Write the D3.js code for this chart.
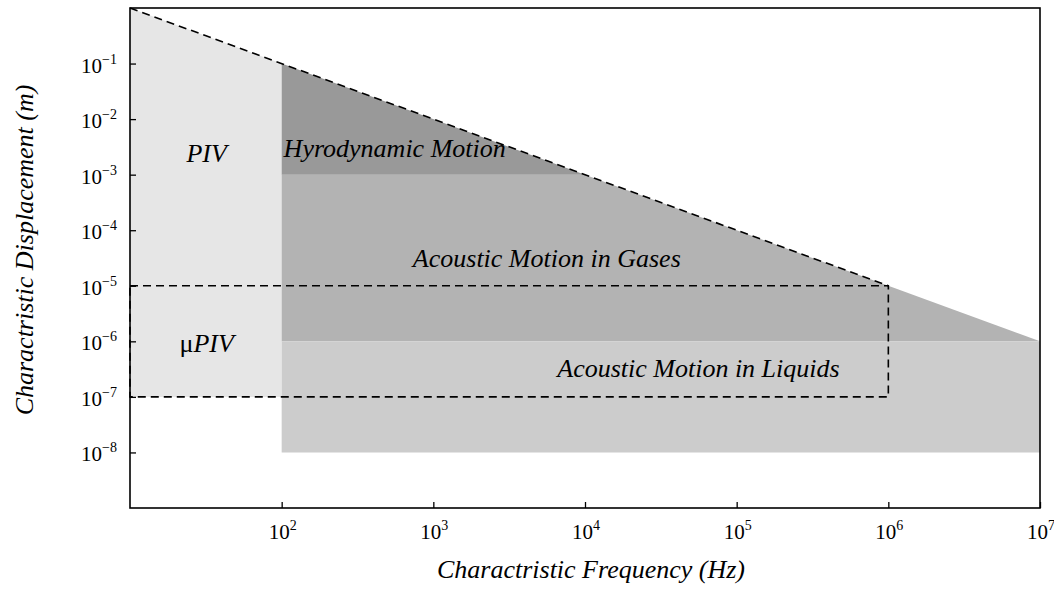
<!DOCTYPE html>
<html>
<head>
<meta charset="utf-8">
<script src="https://cdn.jsdelivr.net/npm/d3@7"></script>
<style>
  body { margin: 0; background: #fff; }
  svg text { font-family: "Liberation Serif", "DejaVu Serif", serif; fill: #000; }
  .lbl { font-style: italic; font-size: 26px; }
</style>
</head>
<body>
<svg id="chart"></svg>
<script>
// frequency (Hz), displacement (m) corners of each region
const pivRegion = [[1e1, 1e0], [1e2, 1e-1], [1e2, 1e-7], [1e1, 1e-7]];
const hydroRegion = [[1e2, 1e-1], [1e4, 1e-3], [1e2, 1e-3]];
const gasRegion = [[1e2, 1e-3], [1e4, 1e-3], [1e7, 1e-6], [1e2, 1e-6]];
const liquidRegion = [[1e2, 1e-6], [1e7, 1e-6], [1e7, 1e-8], [1e2, 1e-8]];
const limitLine = [[1e1, 1e0], [1e6, 1e-5]];
const microPivBox = [[1e1, 1e-5], [1e6, 1e-5], [1e6, 1e-7], [1e1, 1e-7]];

const xTickExp = [2, 3, 4, 5, 6, 7];
const yTickExp = [-1, -2, -3, -4, -5, -6, -7, -8];

const regionLabels = [
  { text: "PIV", f: 32, d: 1.7e-3, anchor: "middle" },
  { text: "Hyrodynamic Motion", f: 103, d: 2.1e-3, anchor: "start" },
  { text: "Acoustic Motion in Gases", f: 5.6e3, d: 2.2e-5, anchor: "middle" },
  { text: "\u03bcPIV", f: 32, d: 6.4e-7, anchor: "middle" },
  { text: "Acoustic Motion in Liquids", f: 5.6e4, d: 2.3e-7, anchor: "middle" }
];

const width = 1054, height = 589;
const margin = { top: 8, right: 14, bottom: 81, left: 130 };

const svg = d3.select('#chart')
  .attr('width', width)
  .attr('height', height);

const x = d3.scaleLog()
  .domain([1e1, 1e7])
  .range([margin.left, width - margin.right]);

const y = d3.scaleLog()
  .domain([1e-9, 1e0])
  .range([height - margin.bottom, margin.top]);

const line = d3.line()
  .x(d => x(d[0]))
  .y(d => y(d[1]));

// filled regions
const regions = [
  { pts: pivRegion, fill: '#e6e6e6' },
  { pts: gasRegion, fill: '#b3b3b3' },
  { pts: hydroRegion, fill: '#999999' },
  { pts: liquidRegion, fill: '#cccccc' }
];
svg.selectAll('path.region')
  .data(regions)
  .join('path')
  .attr('class', 'region')
  .attr('d', d => line(d.pts) + 'Z')
  .attr('fill', d => d.fill);

// dashed limit line and micro PIV box
svg.append('path')
  .attr('d', line(limitLine))
  .attr('fill', 'none')
  .attr('stroke', '#000')
  .attr('stroke-width', 1.6)
  .attr('stroke-dasharray', '8,5');

svg.append('path')
  .attr('d', line(microPivBox) + 'Z')
  .attr('fill', 'none')
  .attr('stroke', '#000')
  .attr('stroke-width', 1.6)
  .attr('stroke-dasharray', '8,5');

// region labels
svg.selectAll('text.region-label')
  .data(regionLabels)
  .join('text')
  .attr('class', 'lbl region-label')
  .attr('x', d => x(d.f))
  .attr('y', d => y(d.d))
  .attr('text-anchor', d => d.anchor)
  .each(function(d) {
    const t = d3.select(this);
    if (d.text.startsWith('\u03bc')) {
      t.append('tspan').style('font-style', 'normal').text('\u03bc');
      t.append('tspan').text(d.text.slice(1));
    } else {
      t.text(d.text);
    }
  });

// axes (inward ticks, no default labels)
const xAxis = d3.axisBottom(x)
  .tickValues(xTickExp.map(e => Math.pow(10, e)))
  .tickSize(-6)
  .tickSizeOuter(0)
  .tickFormat('');
const yAxis = d3.axisLeft(y)
  .tickValues(yTickExp.map(e => Math.pow(10, e)))
  .tickSize(-6)
  .tickSizeOuter(0)
  .tickFormat('');

const xAxisG = svg.append('g')
  .attr('transform', `translate(0,${height - margin.bottom})`)
  .call(xAxis);
const yAxisG = svg.append('g')
  .attr('transform', `translate(${margin.left},0)`)
  .call(yAxis);
[xAxisG, yAxisG].forEach(g => {
  g.select('.domain').remove();
  g.selectAll('.tick line').attr('stroke', '#000').attr('stroke-width', 1.3);
});

// frame
svg.append('rect')
  .attr('x', margin.left)
  .attr('y', margin.top)
  .attr('width', width - margin.left - margin.right)
  .attr('height', height - margin.top - margin.bottom)
  .attr('fill', 'none')
  .attr('stroke', '#000')
  .attr('stroke-width', 1.6);

// tick labels as 10^n
xTickExp.forEach(e => {
  const t = svg.append('text')
    .attr('x', x(Math.pow(10, e)) + 1)
    .attr('y', height - margin.bottom + 31)
    .attr('text-anchor', 'middle')
    .style('font-size', '21px');
  t.append('tspan').text('10');
  t.append('tspan').attr('dy', -9).style('font-size', '14px').text(e);
});
yTickExp.forEach(e => {
  const t = svg.append('text')
    .attr('x', margin.left - 13)
    .attr('y', y(Math.pow(10, e)) + 9)
    .attr('text-anchor', 'end')
    .style('font-size', '21px');
  t.append('tspan').text('10');
  t.append('tspan').attr('dy', -9).style('font-size', '14px').text('\u2212' + Math.abs(e));
});

// axis titles
svg.append('text')
  .attr('class', 'lbl')
  .attr('x', 591)
  .attr('y', 578)
  .attr('text-anchor', 'middle')
  .text('Charactristic Frequency (Hz)');

svg.append('text')
  .attr('class', 'lbl')
  .attr('transform', 'translate(33,250) rotate(-90)')
  .attr('text-anchor', 'middle')
  .text('Charactristic Displacement (m)');
</script>
</body>
</html>
